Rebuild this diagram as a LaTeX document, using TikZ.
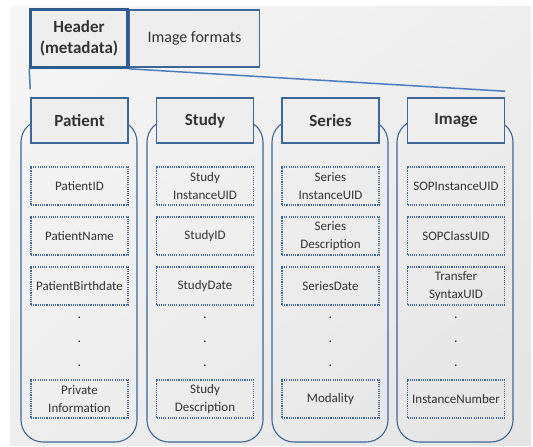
\documentclass[tikz,border=0pt]{standalone}
\usepackage{fontspec}
\usetikzlibrary{shadings}
\setmainfont{Carlito}
\definecolor{frame}{HTML}{3E6797}
\definecolor{headframe}{HTML}{2E5C8E}
\definecolor{link}{HTML}{4A7DBF}
\definecolor{ink}{HTML}{333333}
\definecolor{panel}{HTML}{EEEEEE}
\tikzset{
  headbox/.style={draw=headframe, line width=2.6pt, fill=panel, minimum width=97pt, minimum height=58pt,
    align=center, font=\fontsize{17}{21}\selectfont\bfseries, text=ink, inner sep=0pt},
  fmtbox/.style={draw=frame, line width=1.4pt, fill=panel, minimum width=130pt, minimum height=57pt,
    font=\fontsize{16}{20}\selectfont, text=ink, inner sep=0pt},
  container/.style={draw=frame, line width=1.1pt, rounded corners=22pt, minimum width=116pt,
    minimum height=322pt, inner sep=0pt},
  titlebox/.style={draw=frame, line width=1.5pt, fill=panel, minimum width=97pt, minimum height=45pt,
    font=\fontsize{17}{20}\selectfont\bfseries, text=ink, inner sep=0pt},
  field/.style={draw=frame, line width=1.2pt, dash pattern=on 1.1pt off 1.1pt, minimum width=97pt,
    minimum height=38pt, align=center, font=\fontsize{13}{17.5}\selectfont, text=ink, inner sep=0pt},
  gap/.style={font=\fontsize{14}{14}\selectfont, text=ink, inner sep=0pt},
  connector/.style={draw=link, line width=1.5pt}
}
\begin{document}
\begin{tikzpicture}[x=1pt,y=-1pt]
  \useasboundingbox (0,0) rectangle (533,447);
  % backdrop
  \shade[upper left=white!50!panel, upper right=panel, lower left=panel, lower right=panel!96!black]
    (10,6) rectangle (531,445);

  % header and sibling tab
  \node[headbox] (hdr) at (79,38.5) {Header\\(metadata)};
  \node[fmtbox, anchor=west] (fmt) at (hdr.east) {Image formats};

  % containers
  \foreach \n/\x in {pc/79, sc/205, rc/330, ic/455}
    \node[container] (\n) at (\x,281) {};

  % column titles
  \node[titlebox] (pt) at (79.5,120.5) {Patient};
  \node[titlebox] (st) at (205,120.5) {Study};
  \node[titlebox] (rt) at (330.5,120.5) {Series};
  \node[titlebox] (it) at (456,120.5) {Image};

  % links from the header to the columns
  \coordinate (la) at ([yshift=8pt]pt.north west);
  \coordinate (lb) at ([yshift=6pt]it.north east);
  \draw[connector] (hdr.south west) -- (la);
  \draw[connector] (hdr.south east) -- (lb);

  % Patient fields
  \node[field] (p1) at (79.5,186) {PatientID};
  \node[field] (p2) at (79.5,236) {PatientName};
  \node[field] (p3) at (79.5,286) {PatientBirthdate};
  \node[field] (p4) at (79.5,399) {Private\\Information};

  % Study fields
  \node[field] (s1) at (205,186) {Study\\InstanceUID};
  \node[field] (s2) at (205,236) {StudyID};
  \node[field] (s3) at (205,286) {StudyDate};
  \node[field] (s4) at (205,399) {Study\\Description};

  % Series fields
  \node[field] (r1) at (330.5,186) {Series\\InstanceUID};
  \node[field] (r2) at (330.5,236) {Series\\Description};
  \node[field] (r3) at (330.5,286) {SeriesDate};
  \node[field] (r4) at (330.5,399) {Modality};

  % Image fields
  \node[field] (i1) at (456,186) {SOPInstanceUID};
  \node[field] (i2) at (456,236) {SOPClassUID};
  \node[field] (i3) at (456,286) {Transfer\\SyntaxUID};
  \node[field] (i4) at (456,399) {InstanceNumber};

  % ellipsis dots
  \foreach \c/\x in {p/79.5, s/205, r/330.5, i/456}
    \foreach \k/\y in {1/318, 2/342, 3/366}
      \node[gap] (\c d\k) at (\x,\y) {.};
\end{tikzpicture}
\end{document}
